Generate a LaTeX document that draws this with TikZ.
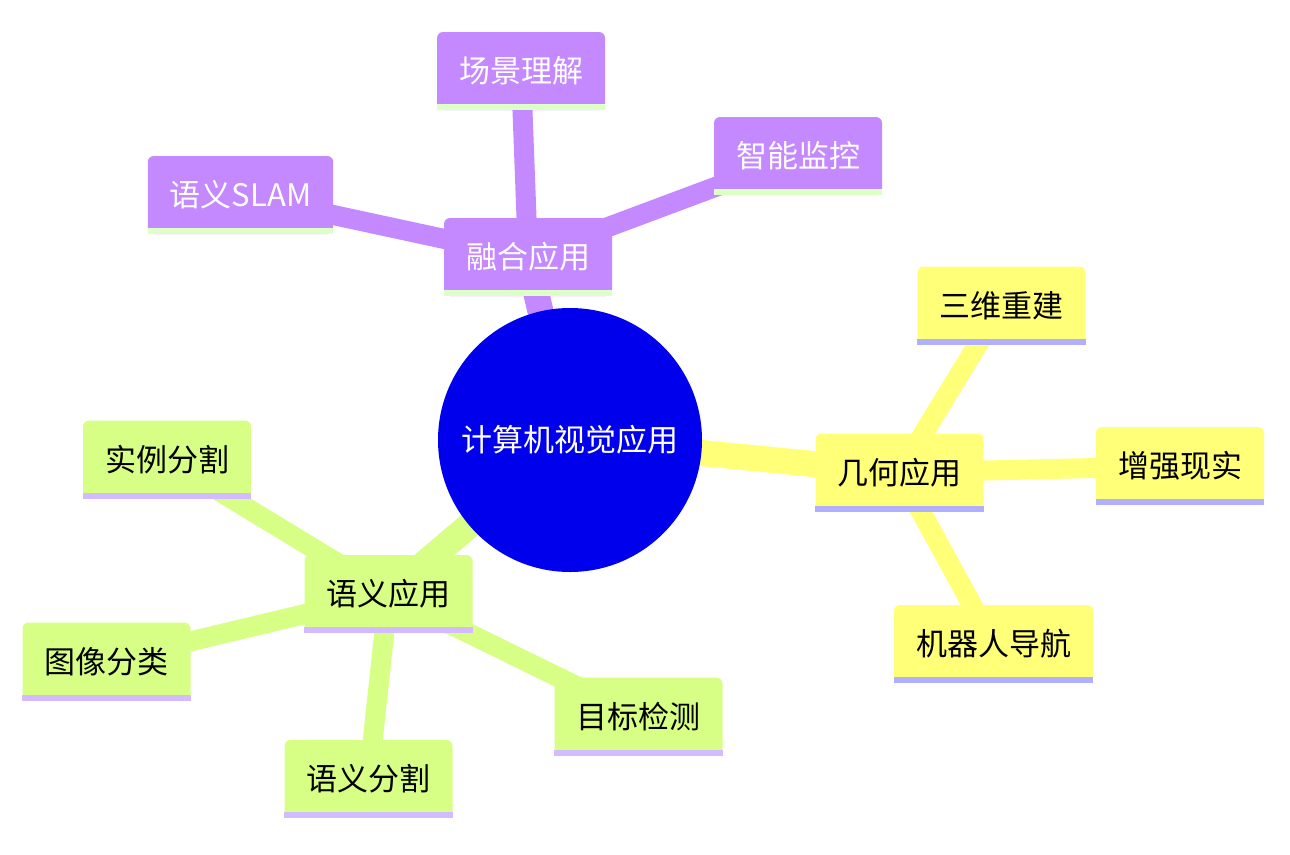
\documentclass[tikz,border=0pt]{standalone}
\usepackage{fontspec}
\setmainfont{Noto Sans CJK SC}
\usetikzlibrary{backgrounds}
\definecolor{rootc}{HTML}{0000EC}
\definecolor{purp}{HTML}{C488FF}
\definecolor{purpline}{HTML}{DDFFC8}
\definecolor{yel}{HTML}{FFFF78}
\definecolor{yelline}{HTML}{B0B0FF}
\definecolor{grn}{HTML}{D8FF85}
\definecolor{grnline}{HTML}{D4BAFF}
\tikzset{
  box/.style={rectangle, rounded corners=6pt, inner xsep=22pt, inner ysep=0pt,
    minimum height=78pt, font=\fontsize{31}{36}\selectfont, anchor=center},
  pbox/.style={box, fill=purp, text=white},
  ybox/.style={box, fill=yel, text=black},
  gbox/.style={box, fill=grn, text=black},
  rootnode/.style={circle, fill=rootc, text=white, minimum size=264pt, inner sep=0pt,
    font=\fontsize{31}{36}\selectfont},
  lvlone/.style={line width=26pt},
  lvltwo/.style={line width=20pt},
}
\newcommand{\stripe}[2]{\fill[#2] (#1.south west) rectangle ([yshift=6pt]#1.south east);}
\begin{document}
\begin{tikzpicture}[x=1pt,y=-1pt]
\useasboundingbox (0,0) rectangle (1290,854);
\node[rootnode] (root) at (570,440) {计算机视觉应用};
% purple
\node[pbox] (fuse) at (528,257) {融合应用};
\node[pbox] (scene) at (521,71) {场景理解};
\node[pbox] (monitor) at (798,156) {智能监控};
\node[pbox] (slam) at (240.5,195) {语义SLAM};
% yellow
\node[ybox] (geo) at (899.5,472.5) {几何应用};
\node[ybox] (recon) at (1001.5,305.5) {三维重建};
\node[ybox] (ar) at (1180,466) {增强现实};
\node[ybox] (nav) at (993.5,644) {机器人导航};
% green
\node[gbox] (sem) at (388.5,594) {语义应用};
\node[gbox] (inst) at (167,459.5) {实例分割};
\node[gbox] (cls) at (106.5,661.5) {图像分类};
\node[gbox] (seg) at (368.5,779) {语义分割};
\node[gbox] (det) at (638.5,716.5) {目标检测};
\stripe{fuse}{purpline}\stripe{scene}{purpline}\stripe{monitor}{purpline}\stripe{slam}{purpline}
\stripe{geo}{yelline}\stripe{recon}{yelline}\stripe{ar}{yelline}\stripe{nav}{yelline}
\stripe{sem}{grnline}\stripe{inst}{grnline}\stripe{cls}{grnline}\stripe{seg}{grnline}\stripe{det}{grnline}
\begin{scope}[on background layer]
\draw[lvlone, purp] (root.center) -- (fuse.center);
\draw[lvlone, yel] (root.center) -- (geo.center);
\draw[lvlone, grn] (root.center) -- (sem.center);
\draw[lvltwo, purp] (fuse.center) -- (scene.center);
\draw[lvltwo, purp] (fuse.center) -- (monitor.center);
\draw[lvltwo, purp] (fuse.center) -- (slam.center);
\draw[lvltwo, yel] (geo.center) -- (recon.center);
\draw[lvltwo, yel] (geo.center) -- (ar.center);
\draw[lvltwo, yel] (geo.center) -- (nav.center);
\draw[lvltwo, grn] (sem.center) -- (inst.center);
\draw[lvltwo, grn] (sem.center) -- (cls.center);
\draw[lvltwo, grn] (sem.center) -- (seg.center);
\draw[lvltwo, grn] (sem.center) -- (det.center);
\end{scope}
\end{tikzpicture}
\end{document}
